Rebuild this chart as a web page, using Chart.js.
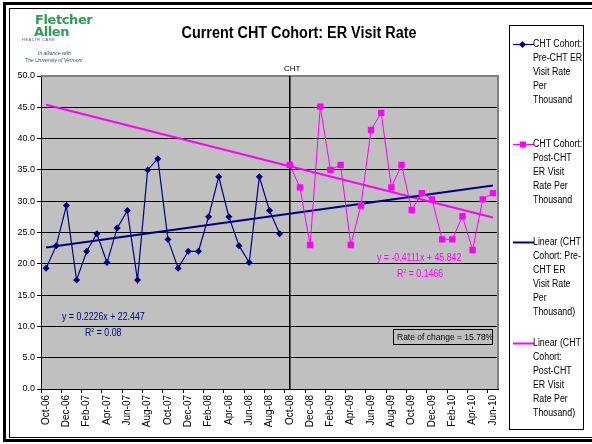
<!DOCTYPE html>
<html>
<head>
<meta charset="utf-8">
<script src="https://cdn.jsdelivr.net/npm/chart.js@4"></script>
<style>
  html, body { margin: 0; padding: 0; background: #fff; }
  body { width: 592px; height: 444px; position: relative; overflow: hidden; font-family: "Liberation Sans", Arial, sans-serif; }
  #chart { position: absolute; left: 0; top: 0; }
  .abs { position: absolute; white-space: nowrap; }
  .nar { transform: scaleX(0.88); transform-origin: left center; }
  #frameOuter { position: absolute; left: 3px; top: 2px; width: 589px; height: 434px; border: 3px solid #000; border-right: none; }
  #frameInner { position: absolute; left: 9px; top: 8px; width: 583px; height: 428px; border: 1px solid #000; border-right: none; }
  #title { left: 0; width: 598px; top: 24px; text-align: center; font-weight: bold; font-size: 16px; transform: scaleX(0.9); transform-origin: 299px 0; }
  #legend { position: absolute; left: 509px; top: 25px; width: 73px; height: 403px; border: 1px solid #000; background: #fff; overflow: hidden; }
  .leg { position: absolute; font-size: 10px; line-height: 14px; white-space: nowrap; }
  .eqNavy { color: #000080; font-size: 10px; }
  .eqPink { color: #ff00ff; font-size: 10px; }
  #rate { left: 393px; top: 329px; width: 98px; height: 14px; border: 1px solid #000; font-size: 8.5px; line-height: 14px; text-indent: 3px; }
  .logo { color: #2e9d55; font-weight: bold; font-family: "DejaVu Sans", sans-serif; }
</style>
</head>
<body>
<canvas id="chart" width="592" height="444"></canvas>
<div id="frameOuter"></div>
<div id="frameInner"></div>

<div class="abs logo" style="left:35px;top:12px;font-size:13px;letter-spacing:-0.4px;">Fletcher</div>
<div class="abs logo" style="left:34px;top:24px;font-size:13px;letter-spacing:-0.4px;">Allen</div>
<div class="abs" style="left:22px;top:37px;font-size:4px;color:#4060a0;letter-spacing:0.5px;">HEALTH CARE</div>
<div class="abs" style="left:38px;top:50px;font-size:5px;font-style:italic;color:#356;">In alliance with</div>
<div class="abs" style="left:25px;top:57px;font-size:5px;font-style:italic;color:#356;">The University of Vermont</div>

<div id="title" class="abs">Current CHT Cohort: ER Visit Rate</div>
<div class="abs" style="left:284px;top:64px;font-size:8px;">CHT</div>

<div class="abs eqNavy nar" style="left:62px;top:311px;">y = 0.2226x + 22.447</div>
<div class="abs eqNavy nar" style="left:85px;top:327px;">R<sup style="font-size:6px;">2</sup> = 0.08</div>
<div class="abs eqPink nar" style="left:377px;top:252px;">y = -0.4111x + 45.842</div>
<div class="abs eqPink nar" style="left:397px;top:268px;">R<sup style="font-size:6px;">2</sup> = 0.1466</div>
<div id="rate" class="abs">Rate of change = 15.78%</div>

<div id="legend"></div>

<script>
// monthly categories
const months = ['Oct-06','Nov-06','Dec-06','Jan-07','Feb-07','Mar-07','Apr-07','May-07','Jun-07','Jul-07','Aug-07','Sep-07',
  'Oct-07','Nov-07','Dec-07','Jan-08','Feb-08','Mar-08','Apr-08','May-08','Jun-08','Jul-08','Aug-08','Sep-08',
  'Oct-08','Nov-08','Dec-08','Jan-09','Feb-09','Mar-09','Apr-09','May-09','Jun-09','Jul-09','Aug-09','Sep-09',
  'Oct-09','Nov-09','Dec-09','Jan-10','Feb-10','Mar-10','Apr-10','May-10','Jun-10'];

// ER visit rate per thousand
const preCHT = [19.3,22.9,29.3,17.4,22.0,24.8,20.2,25.7,28.5,17.4,35.0,36.8,
  23.9,19.3,22.0,22.0,27.5,33.9,27.5,22.9,20.2,33.9,28.5,24.8];
const postCHT = [35.8,32.2,23.0,45.1,35.0,35.8,23.0,29.3,41.4,44.1,32.2,35.8,
  28.6,31.3,30.3,23.9,23.9,27.6,22.2,30.3,31.3];

// trend line ends (first month, last month)
const preTrendEnds = [22.6, 32.5];
const postTrendEnds = [45.4, 27.4];

const yTicks = [0, 5, 10, 15, 20, 25, 30, 35, 40, 45, 50];
const interventionMonth = 'Oct-08';

const NAVY = '#000080';
const PINK = '#ff00ff';

const n = months.length;
const preData = preCHT.concat(Array(n - preCHT.length).fill(null));
const postData = Array(n - postCHT.length).fill(null).concat(postCHT);
function trend(ends) {
  const d = Array(n).fill(null);
  d[0] = ends[0];
  d[n - 1] = ends[1];
  return d;
}

const legendItems = [
  { color: NAVY, marker: 'diamond', lines: ['CHT Cohort:', 'Pre-CHT ER', 'Visit Rate', 'Per', 'Thousand'], y: 43 },
  { color: PINK, marker: 'square', lines: ['CHT Cohort:', 'Post-CHT', 'ER Visit', 'Rate Per', 'Thousand'], y: 143 },
  { color: NAVY, marker: null, lines: ['Linear (CHT', 'Cohort: Pre-', 'CHT ER', 'Visit Rate', 'Per', 'Thousand)'], y: 241 },
  { color: PINK, marker: null, lines: ['Linear (CHT', 'Cohort:', 'Post-CHT', 'ER Visit', 'Rate Per', 'Thousand)'], y: 342 }
];

const legend = document.getElementById('legend');
legendItems.forEach(item => {
  const top = item.y - 25 - 7;
  let mk = '';
  if (item.marker === 'diamond') mk = `<rect x="7" y="3" width="5" height="5" fill="${item.color}" transform="rotate(45 9.5 5.5)"/>`;
  if (item.marker === 'square') mk = `<rect x="7" y="2.5" width="6" height="6" fill="${item.color}"/>`;
  const lw = item.marker ? 1.2 : 2;
  legend.innerHTML += `
    <svg style="position:absolute;left:3px;top:${top + 1.5}px" width="21" height="11">
      <line x1="0" y1="5.5" x2="21" y2="5.5" stroke="${item.color}" stroke-width="${lw}"/>${mk}
    </svg>
    <div class="leg nar" style="left:23px;top:${top}px">${item.lines.join('<br>')}</div>`;
});

const plotDecor = {
  id: 'plotDecor',
  beforeDraw(chart) {
    const a = chart.chartArea, ctx = chart.ctx;
    ctx.save();
    ctx.fillStyle = '#c0c0c0';
    ctx.fillRect(a.left, a.top, a.right - a.left, a.bottom - a.top);
    ctx.restore();
  },
  beforeDatasetsDraw(chart) {
    const a = chart.chartArea, ctx = chart.ctx;
    const x = chart.scales.x.getPixelForValue(months.indexOf(interventionMonth));
    ctx.save();
    ctx.strokeStyle = '#808080';
    ctx.lineWidth = 2;
    ctx.beginPath();
    ctx.moveTo(a.left, a.top);
    ctx.lineTo(a.right, a.top);
    ctx.lineTo(a.right, a.bottom);
    ctx.stroke();
    ctx.strokeStyle = '#000';
    ctx.lineWidth = 1.5;
    ctx.beginPath();
    ctx.moveTo(x, a.top);
    ctx.lineTo(x, a.bottom);
    ctx.stroke();
    ctx.restore();
  }
};

new Chart(document.getElementById('chart'), {
  type: 'line',
  data: {
    labels: months,
    datasets: [
      { label: 'CHT Cohort: Pre-CHT ER Visit Rate Per Thousand', data: preData, borderColor: NAVY, backgroundColor: NAVY,
        borderWidth: 1.2, pointStyle: 'rectRot', pointRadius: 3.5, pointBorderWidth: 0, order: 1 },
      { label: 'CHT Cohort: Post-CHT ER Visit Rate Per Thousand', data: postData, borderColor: PINK, backgroundColor: PINK,
        borderWidth: 1, pointStyle: 'rect', pointRadius: 4.5, pointBorderWidth: 0, order: 2 },
      { label: 'Linear (CHT Cohort: Pre-CHT ER Visit Rate Per Thousand)', data: trend(preTrendEnds), borderColor: NAVY,
        borderWidth: 2, pointRadius: 0, spanGaps: true, order: 3 },
      { label: 'Linear (CHT Cohort: Post-CHT ER Visit Rate Per Thousand)', data: trend(postTrendEnds), borderColor: PINK,
        borderWidth: 2, pointRadius: 0, spanGaps: true, order: 4 }
    ]
  },
  options: {
    responsive: false,
    animation: false,
    devicePixelRatio: 1,
    layout: { padding: { left: 0, right: 94, top: 76, bottom: 0 } },
    elements: { line: { tension: 0 } },
    plugins: { legend: { display: false }, tooltip: { enabled: false }, title: { display: false } },
    scales: {
      x: {
        offset: true,
        grid: {
          offset: true, drawOnChartArea: false, tickLength: 4,
          color: ctx => (ctx.index % 2 === 0 ? '#000' : 'rgba(0,0,0,0)')
        },
        border: { color: '#000', width: 1 },
        ticks: {
          autoSkip: false, maxRotation: 90, minRotation: 90, padding: 2,
          color: '#000', font: { family: 'Liberation Sans', size: 10 },
          callback: (v, i) => (i % 2 === 0 ? months[i] : '')
        },
        afterFit: s => { s.height = 55; }
      },
      y: {
        min: yTicks[0], max: yTicks[yTicks.length - 1],
        afterBuildTicks: s => { s.ticks = yTicks.map(v => ({ value: v })); },
        grid: { color: '#000', lineWidth: 1, tickLength: 4 },
        border: { color: '#000', width: 1 },
        ticks: { padding: 2, color: '#000', font: { family: 'Liberation Sans', size: 9 }, callback: v => v.toFixed(1) },
        afterFit: s => { s.width = 41; }
      }
    }
  },
  plugins: [plotDecor]
});
</script>
</body>
</html>
